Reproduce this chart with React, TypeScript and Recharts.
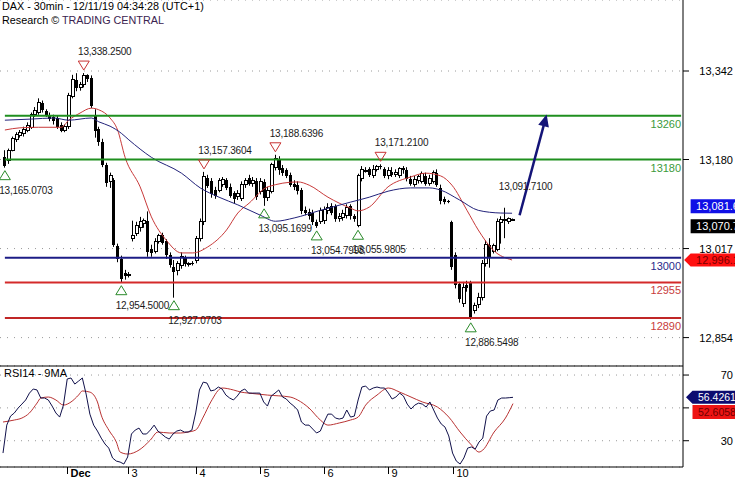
import React from "react";
import {
  ComposedChart,
  Bar,
  Line,
  XAxis,
  YAxis,
  CartesianGrid,
  ReferenceLine,
  ReferenceDot,
} from "recharts";

const FONT = '"Liberation Sans", Arial, Helvetica, sans-serif';

// 30 min bars, Nov 29 -> Dec 10 (17 bars a day)
const opens = [
  13185, 13179, 13197, 13216, 13224, 13228, 13233, 13238, 13262, 13266,
  13284, 13268, 13262, 13258, 13256, 13244, 13234, 13240, 13296, 13326,
  13312, 13318, 13334, 13330, 13262, 13236, 13212, 13170, 13140, 13142,
  13022, 12998, 12972, 12968, 13036, 13045, 13055, 13062, 13068, 13016,
  13012, 13030, 13042, 13030, 13006, 12984, 12976, 12986, 13000, 12988,
  12990, 12996, 13036, 13066, 13146, 13140, 13124, 13124, 13134, 13142,
  13130, 13118, 13112, 13108, 13134, 13146, 13136, 13140, 13122, 13138,
  13110, 13122, 13166, 13180, 13164, 13160, 13152, 13136, 13134, 13124,
  13088, 13084, 13082, 13066, 13066, 13068, 13086, 13094, 13094, 13072,
  13074, 13078, 13094, 13076, 13060, 13146, 13160, 13162, 13150, 13162,
  13168, 13162, 13150, 13158, 13152, 13150, 13164, 13160, 13144, 13134,
  13142, 13140, 13150, 13136, 13140, 13156, 13128, 13108, 13104, 13066,
  13006, 12952, 12916, 12950, 12954, 12904, 12914, 12928, 12990, 13024,
  13012, 13016, 13064, 13068, 13066, 13070,
];
const highs = [
  13197, 13200, 13222, 13230, 13234, 13240, 13248, 13266, 13276, 13292,
  13288, 13272, 13266, 13262, 13260, 13248, 13244, 13302, 13335, 13338,
  13322, 13338.25, 13336, 13334, 13272, 13240, 13218, 13174, 13156, 13146,
  13026, 13004, 12978, 12974, 13068, 13066, 13075, 13072, 13085, 13024,
  13036, 13044, 13046, 13034, 13010, 12996, 12994, 13010, 13004, 12992,
  12994, 13040, 13072, 13157.3604, 13152, 13146, 13130, 13146, 13148, 13146,
  13136, 13122, 13124, 13140, 13146, 13152, 13148, 13146, 13146, 13144,
  13130, 13174, 13188.6396, 13186, 13170, 13164, 13156, 13142, 13140, 13128,
  13094, 13090, 13088, 13070, 13092, 13094, 13100, 13100, 13098, 13082,
  13088, 13098, 13098, 13080, 13154, 13168, 13166, 13166, 13170, 13170,
  13171.21, 13166, 13166, 13166, 13162, 13166, 13168, 13166, 13150, 13150,
  13152, 13158, 13156, 13152, 13160, 13162, 13134, 13112, 13106, 13068,
  13010, 12956, 12956, 12958, 12958, 12918, 12936, 12996, 13032, 13036,
  13026, 13072, 13076, 13091.71, 13074, 13072,
];
const lows = [
  13165.0703, 13172, 13195, 13212, 13220, 13222, 13230, 13236, 13258, 13262,
  13266, 13258, 13250, 13244, 13236, 13230, 13230, 13236, 13292, 13305,
  13306, 13312, 13322, 13274, 13220, 13205, 13166, 13130, 13128, 13020,
  12992, 12954.5, 12960, 12964, 13030, 13040, 13048, 13055, 13002, 13002,
  13008, 13026, 13024, 12998, 12982, 12927.0703, 12968, 12980, 12984, 12984,
  12986, 12990, 13030, 13060, 13128, 13110, 13108, 13120, 13130, 13124,
  13110, 13100, 13106, 13104, 13128, 13132, 13130, 13106, 13116, 13095.1699,
  13104, 13118, 13160, 13152, 13150, 13146, 13130, 13124, 13116, 13080,
  13078, 13070, 13060, 13054.7998, 13062, 13062, 13080, 13078, 13066, 13066,
  13068, 13072, 13070, 13066, 13055.9805, 13140, 13156, 13148, 13146, 13158,
  13162, 13146, 13144, 13148, 13148, 13146, 13154, 13140, 13132, 13130,
  13136, 13136, 13132, 13132, 13136, 13130, 13098, 13098, 13100, 12978,
  12944, 12918, 12910, 12938, 12886.5498, 12898, 12908, 12922, 12984, 12982,
  13008, 13012, 13026, 13036, 13062, 13068,
];
const closes = [
  13168, 13197, 13218, 13226, 13230, 13235, 13243, 13262, 13270, 13285,
  13270, 13262, 13255, 13250, 13240, 13232, 13240, 13298, 13326, 13310,
  13318, 13334, 13328, 13278, 13232, 13212, 13170, 13137, 13150, 13024,
  12998, 12962, 12966, 12970, 13040, 13060, 13066, 13068, 13010, 13008,
  13030, 13040, 13028, 13006, 12986, 12974, 12990, 13002, 12988, 12989,
  12988, 13036, 13066, 13148, 13132, 13116, 13114, 13142, 13144, 13128,
  13114, 13108, 13118, 13134, 13142, 13136, 13142, 13112, 13140, 13110,
  13124, 13170, 13182, 13160, 13156, 13150, 13134, 13130, 13122, 13086,
  13082, 13076, 13066, 13058, 13086, 13088, 13092, 13082, 13072, 13076,
  13082, 13092, 13076, 13072, 13150, 13162, 13160, 13152, 13162, 13168,
  13166, 13150, 13160, 13152, 13156, 13164, 13160, 13144, 13136, 13144,
  13148, 13154, 13136, 13146, 13156, 13134, 13104, 13102, 13102, 12984,
  12950, 12924, 12946, 12944, 12892, 12912, 12928, 12990, 13024, 13000,
  13022, 13066, 13070, 13070, 13072, 13070.7,
];

// moving averages as [bar, value]
const navyMa: [number, number][] = [
  [0, 13252], [7, 13254], [13, 13256], [17, 13252], [23, 13256], [25, 13249],
  [28, 13241], [31, 13228], [33, 13216], [39, 13184], [47, 13155], [52, 13128],
  [57, 13111], [62, 13097], [68, 13078], [72, 13067], [77, 13073], [84, 13087],
  [92, 13102], [97, 13111], [102, 13122], [108, 13128], [113, 13128], [116, 13124],
  [121, 13106], [126, 13087], [132, 13082], [135, 13081.64],
];
const redMa: [number, number][] = [
  [0, 13234], [4, 13238], [9, 13239], [15, 13239], [17, 13252], [20, 13265],
  [23, 13274], [25, 13271], [28, 13256], [30, 13234], [32, 13184], [36, 13130],
  [39, 13075], [43, 13032], [47, 13009], [50, 13009], [54, 13020], [59, 13051],
  [62, 13082], [65, 13100], [70, 13130], [78, 13139], [81, 13133], [86, 13111],
  [92, 13091], [94, 13086], [97, 13093], [102, 13130], [108, 13148], [112, 13155],
  [116, 13150], [119, 13133], [123, 13087], [126, 13051], [130, 13014], [135, 12996.1],
];

const rsi = [
  22.5, 39.5, 45.0, 46.9, 49.9, 52.3, 54.8, 59.0, 61.5, 60.9,
  56.0, 56.0, 54.8, 51.1, 46.9, 44.4, 51.7, 67.6, 68.2, 64.5,
  66.3, 68.2, 58.4, 46.2, 39.5, 35.9, 31.6, 28.0, 25.5, 19.5,
  17.6, 17.0, 15.8, 20.1, 34.1, 36.5, 37.7, 34.1, 34.1, 36.5,
  39.5, 35.9, 34.1, 32.2, 31.0, 34.1, 35.9, 36.5, 35.3, 35.3,
  36.5, 46.9, 60.9, 65.7, 65.1, 60.3, 60.9, 62.7, 61.5, 57.8,
  56.0, 54.8, 57.2, 60.3, 61.5, 59.0, 59.0, 59.0, 59.0, 53.6,
  51.1, 57.2, 59.0, 60.9, 56.6, 55.4, 52.9, 51.1, 48.7, 41.4,
  39.5, 39.5, 37.1, 34.7, 35.9, 41.4, 46.2, 46.2, 43.8, 43.2,
  43.8, 48.7, 44.4, 45.0, 54.8, 62.7, 63.3, 60.9, 62.1, 62.7,
  62.1, 62.1, 59.0, 55.4, 56.6, 59.0, 57.2, 52.3, 49.3, 51.7,
  52.9, 52.3, 50.5, 53.6, 48.7, 43.8, 40.2, 38.3, 32.9, 22.5,
  17.6, 15.8, 19.5, 25.5, 26.2, 24.9, 29.2, 31.6, 45.0, 48.1,
  48.7, 54.8, 56.0, 56.0, 56.2, 56.4261,
];
const rsiMa: [number, number][] = [
  [0, 41.4], [3, 42.6], [5, 43.8], [7, 46.9], [9, 52.9], [10, 56.0], [12, 56.6],
  [14, 54.8], [16, 51.7], [18, 53.6], [20, 57.8], [21, 60.3], [23, 59.6], [25, 53.6],
  [26, 45.6], [28, 36.5], [30, 29.2], [31, 23.1], [33, 21.9], [36, 24.3], [39, 30.4],
  [41, 35.3], [44, 34.7], [47, 34.7], [49, 35.3], [51, 36.5], [53, 44.4], [55, 53.6],
  [58, 62.1], [61, 60.9], [63, 59.6], [65, 59.0], [70, 57.8], [76, 56.6], [78, 54.8],
  [81, 49.9], [84, 42.6], [86, 39.5], [89, 40.8], [92, 42.6], [94, 44.4], [96, 51.7],
  [99, 57.8], [102, 62.1], [105, 59.6], [108, 56.6], [111, 53.6], [115, 50.5],
  [118, 44.4], [121, 35.3], [124, 27.4], [126, 23.1], [127, 24.3], [130, 35.3],
  [133, 43.8], [135, 52.6058],
];

const dayTicks = [17, 33, 51, 68, 85, 102, 119];
const dayLabels = ["Dec", "3", "4", "5", "6", "9", "10"];
const priceTicks = [12854, 13017, 13180, 13342];
const rsiTicks = [30, 50, 70];
const levelValues = [13260, 13180, 13000, 12955, 12890];
const peakBars = [21, 53, 72, 100];
const troughBars = [0, 31, 45, 69, 83, 94, 124];
const labelOnlyBar = 133;
const arrowFrom = { bar: 137, price: 13078 };
const arrowTo = { bar: 144, price: 13257 };

const SLOTS = 181;
const LAST = SLOTS - 1;
const RSI_TOP = 75.5;

const levelColors = ["#1f8f1f", "#1f8f1f", "#1c1c86", "#d42a2a", "#c02626"];
const levelTextColors = ["#3c9a3c", "#3c9a3c", "#2a2a8a", "#c83c3c", "#c83c3c"];

const priceRows: any[] = Array.from({ length: SLOTS }, (_, i) => {
  const row: any = { i };
  if (i < closes.length) {
    row.range = [lows[i], highs[i]];
    row.open = opens[i];
    row.high = highs[i];
    row.low = lows[i];
    row.close = closes[i];
  }
  return row;
});
navyMa.forEach(([i, v]) => (priceRows[i].navy = v));
redMa.forEach(([i, v]) => (priceRows[i].red = v));

const rsiRows: any[] = Array.from({ length: SLOTS }, (_, i) => ({
  i,
  rsi: i < rsi.length ? rsi[i] : undefined,
}));
rsiMa.forEach(([i, v]) => (rsiRows[i].ma = v));

const fmt4 = (v: number) =>
  v.toLocaleString("en-US", { minimumFractionDigits: 4, maximumFractionDigits: 4 });

const Candle = (props: any) => {
  const { x, y, width, height, payload } = props;
  if (!payload || payload.open == null) return null;
  const { open, close, high, low } = payload;
  const top = Math.min(y, y + height);
  const span = Math.abs(height);
  const py = (v: number) => (high === low ? top : top + ((high - v) / (high - low)) * span);
  const cx = Math.floor(x + width / 2) + 0.5;
  const bTop = py(Math.max(open, close));
  const bH = Math.max(py(Math.min(open, close)) - bTop, 1);
  return (
    <g>
      <line x1={cx} x2={cx} y1={top} y2={top + span} stroke="#000" strokeWidth={1} />
      {close >= open ? (
        <rect x={cx - 1.5} y={bTop} width={3} height={bH} fill="#fff" stroke="#000" strokeWidth={1} shapeRendering="crispEdges" />
      ) : (
        <rect x={cx - 1.5} y={bTop} width={3} height={bH} fill="#000" shapeRendering="crispEdges" />
      )}
    </g>
  );
};

const markText = { fontFamily: FONT, fontSize: 10, fill: "#1a1a1a", letterSpacing: -0.2 } as const;

const PeakMark = ({ cx, cy, value, triangle }: any) => (
  <g>
    {triangle && (
      <polygon
        points={`${cx - 5.5},${cy - 12} ${cx + 5.5},${cy - 12} ${cx},${cy - 3}`}
        fill="none"
        stroke="#c83232"
        strokeWidth={1}
      />
    )}
    <text x={cx + 21} y={cy - 18} textAnchor="middle" {...markText}>
      {fmt4(value)}
    </text>
  </g>
);

const TroughMark = ({ cx, cy, value }: any) => (
  <g>
    <polygon
      points={`${cx - 5.5},${cy + 12} ${cx + 5.5},${cy + 12} ${cx},${cy + 3}`}
      fill="none"
      stroke="#2a8a2a"
      strokeWidth={1}
    />
    <text x={cx + 21} y={cy + 26} textAnchor="middle" {...markText}>
      {fmt4(value)}
    </text>
  </g>
);

const Tag = ({ cx, cy, dy, text, bg, color, arrow, size }: any) => {
  const c = cy + dy;
  const left = cx + 9.5;
  const pts = arrow
    ? `${cx + 3},${c} ${left},${c - 6.5} ${left + 50},${c - 6.5} ${left + 50},${c + 6.5} ${left},${c + 6.5}`
    : `${left},${c - 7} ${left + 50},${c - 7} ${left + 50},${c + 7} ${left},${c + 7}`;
  return (
    <g>
      <polygon points={pts} fill={bg} />
      <text x={cx + 15} y={c + 4} fontFamily={FONT} fontSize={size} fill={color}>
        {text}
      </text>
    </g>
  );
};

const AxisTick = (hideValue?: number) => (p: any) => {
  const v = p.payload.value;
  if (v === hideValue) return <g />;
  return (
    <text x={p.x + 42} y={p.y + 4} textAnchor="end" fontFamily={FONT} fontSize={11} fill="#000">
      {v.toLocaleString("en-US")}
    </text>
  );
};

const DayTick = (p: any) => {
  const k = dayTicks.indexOf(p.payload.value);
  if (k < 0) return <g />;
  const x = Math.round(p.x) + 0.5;
  return (
    <g>
      <line x1={x} x2={x} y1={p.y} y2={p.y + 7} stroke="#000" />
      <text x={x + 3} y={p.y + 10} fontFamily={FONT} fontSize={11} fontWeight={k === 0 ? 700 : 400} fill="#000">
        {dayLabels[k]}
      </text>
    </g>
  );
};

const lastNavy = navyMa[navyMa.length - 1][1];
const lastRed = redMa[redMa.length - 1][1];
const lastClose = closes[closes.length - 1];
const lastRsi = rsi[rsi.length - 1];
const lastRsiMa = rsiMa[rsiMa.length - 1][1];

export default function App() {
  return (
    <div style={{ position: "absolute", left: 0, top: 0, width: 735, height: 480, background: "#fff", overflow: "hidden" }}>
      <div style={{ position: "absolute", left: 0, top: 0 }}>
        <ComposedChart width={735} height={366} data={priceRows} margin={{ top: 0, right: 0, bottom: 0, left: 0 }}>
          <CartesianGrid vertical={false} stroke="#9a9a9a" strokeDasharray="1 6" />
          <XAxis dataKey="i" hide padding={{ left: 3, right: 0 }} />
          <YAxis
            orientation="right"
            width={52}
            type="number"
            domain={[12802, 13472]}
            ticks={priceTicks}
            allowDataOverflow
            axisLine={{ stroke: "#000" }}
            tickLine={{ stroke: "#000" }}
            tickSize={6}
            tickMargin={2}
            tick={AxisTick()}
          />
          <Bar dataKey="range" shape={Candle} isAnimationActive={false} />
          <Line dataKey="red" type="monotone" stroke="#c83a3a" strokeWidth={1} dot={false} activeDot={false} connectNulls isAnimationActive={false} />
          <Line dataKey="navy" type="monotone" stroke="#22227a" strokeWidth={1} dot={false} activeDot={false} connectNulls isAnimationActive={false} />
          {levelValues.map((v, k) => (
            <ReferenceLine
              key={`l${v}`}
              segment={[{ x: 0, y: v }, { x: LAST, y: v }]}
              stroke={levelColors[k]}
              strokeWidth={2}
            />
          ))}
          {levelValues.map((v, k) => (
            <ReferenceDot
              key={`t${v}`}
              x={LAST}
              y={v}
              shape={(p: any) => (
                <text x={p.cx} y={p.cy + 12} textAnchor="end" fontFamily={FONT} fontSize={11} fill={levelTextColors[k]}>
                  {v}
                </text>
              )}
            />
          ))}
          {peakBars.map((b) => (
            <ReferenceDot key={`p${b}`} x={b} y={highs[b]} shape={(p: any) => <PeakMark cx={p.cx} cy={p.cy} value={highs[b]} triangle />} />
          ))}
          <ReferenceDot x={labelOnlyBar} y={highs[labelOnlyBar]} shape={(p: any) => <PeakMark cx={p.cx} cy={p.cy} value={highs[labelOnlyBar]} />} />
          {troughBars.map((b) => (
            <ReferenceDot key={`v${b}`} x={b} y={lows[b]} shape={(p: any) => <TroughMark cx={p.cx} cy={p.cy} value={lows[b]} />} />
          ))}
          <ReferenceLine
            segment={[{ x: arrowFrom.bar, y: arrowFrom.price }, { x: arrowTo.bar, y: arrowTo.price }]}
            stroke="#141478"
            strokeWidth={2.5}
          />
          <ReferenceDot
            x={arrowTo.bar}
            y={arrowTo.price}
            shape={(p: any) => (
              <polygon
                transform={`translate(${p.cx},${p.cy}) rotate(-75)`}
                points="3,0 -9,-5.5 -9,5.5"
                fill="#141478"
              />
            )}
          />
          <ReferenceDot x={LAST} y={lastNavy} ifOverflow="visible" shape={(p: any) => <Tag cx={p.cx} cy={p.cy} dy={-7} text={fmt4(lastNavy)} bg="#1010e6" color="#fff" size={11} />} />
          <ReferenceDot x={LAST} y={lastClose} ifOverflow="visible" shape={(p: any) => <Tag cx={p.cx} cy={p.cy} dy={7} text={fmt4(lastClose)} bg="#000" color="#fff" size={11} />} />
          <ReferenceDot x={LAST} y={lastRed} ifOverflow="visible" shape={(p: any) => <Tag cx={p.cx} cy={p.cy} dy={0} text={fmt4(lastRed)} bg="#ff1010" color="#7a0000" size={11} arrow />} />
        </ComposedChart>
      </div>
      <div style={{ position: "absolute", left: 0, top: 360 }}>
        <ComposedChart width={735} height={120} data={rsiRows} margin={{ top: 6, right: 0, bottom: 0, left: 0 }}>
          <CartesianGrid vertical={false} stroke="#9a9a9a" strokeDasharray="1 6" />
          <XAxis
            dataKey="i"
            height={13}
            interval={0}
            tickLine={false}
            tickSize={0}
            tickMargin={0}
            axisLine={{ stroke: "#000" }}
            padding={{ left: 3, right: 0 }}
            tick={DayTick}
          />
          <YAxis
            orientation="right"
            width={52}
            type="number"
            domain={[14, RSI_TOP]}
            ticks={rsiTicks}
            allowDataOverflow
            axisLine={{ stroke: "#000" }}
            tickLine={{ stroke: "#000" }}
            tickSize={6}
            tickMargin={2}
            tick={AxisTick(50)}
          />
          <ReferenceLine y={RSI_TOP} stroke="#000" strokeWidth={1} />
          <Line dataKey="ma" type="monotone" stroke="#b83232" strokeWidth={1} dot={false} activeDot={false} connectNulls isAnimationActive={false} />
          <Line dataKey="rsi" type="linear" stroke="#10104a" strokeWidth={1} dot={false} activeDot={false} isAnimationActive={false} />
          <ReferenceDot x={LAST} y={lastRsi} ifOverflow="visible" shape={(p: any) => <Tag cx={p.cx} cy={p.cy} dy={0} text={lastRsi.toFixed(4)} bg="#0c0c70" color="#fff" size={10.5} arrow />} />
          <ReferenceDot x={LAST} y={lastRsiMa} ifOverflow="visible" shape={(p: any) => <Tag cx={p.cx} cy={p.cy} dy={8.5} text={lastRsiMa.toFixed(4)} bg="#ee1414" color="#700000" size={10.5} />} />
        </ComposedChart>
      </div>
      <div style={{ position: "absolute", left: 2, top: 0, fontFamily: FONT, fontSize: 10.8, lineHeight: "13.5px", color: "#000" }}>
        <div>DAX - 30min - 12/11/19 04:34:28 (UTC+1)</div>
        <div>
          Research © <span style={{ color: "#3b2350" }}>TRADING CENTRAL</span>
        </div>
      </div>
      <div style={{ position: "absolute", left: 4, top: 367, fontFamily: FONT, fontSize: 11, lineHeight: "13px", color: "#000" }}>
        RSI14 - 9MA
      </div>
    </div>
  );
}
